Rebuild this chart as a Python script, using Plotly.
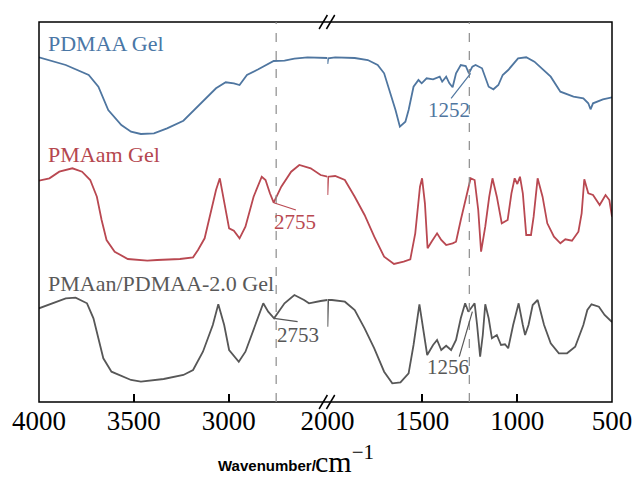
import plotly.graph_objects as go

# ---------------- data (wavenumber in cm^-1, transmittance in a.u., offset) ----------------
pdmaa_wn = [4000, 3859, 3738, 3687, 3635, 3566, 3515, 3463, 3394, 3325, 3239, 3153, 3067, 3016,
            2973, 2943, 2904, 2844, 2792, 2763, 2706, 2654, 2585, 2517, 2480,
            2000, 1996, 1959, 1856, 1787, 1735, 1701, 1667, 1641, 1618, 1589, 1572, 1546, 1520,
            1503, 1477, 1443, 1408, 1395, 1374, 1357, 1340, 1322, 1297, 1271, 1254, 1236, 1219,
            1185, 1150, 1125, 1099, 1076, 1047, 995, 952, 909, 823, 772, 703, 651, 625, 613, 600,
            548, 500]
pdmaa_t = [355.7, 348, 338, 326.3, 303, 288, 281.3, 279, 279.7, 284.7, 292.3, 308, 324.7, 330.7,
           329.7, 328, 338, 343.7, 349, 352, 352.3, 354.3, 355.7, 355, 355,
           349, 354.7, 355.7, 355, 353, 348, 339.7, 319.7, 303, 286.3, 291.3, 303, 326.3, 333,
           329.7, 334.7, 333.7, 336.3, 331.3, 336.3, 329.7, 325.7, 339.7, 348, 347, 339.7, 346.3, 348,
           344.7, 326.3, 323.7, 328, 338, 343, 354.7, 355.7, 351.3, 336.3, 321.3, 316.3, 314.7, 309.7, 303.7, 309.7,
           313.7, 315.7]

pmaam_wn = [4000, 3945, 3893, 3824, 3773, 3730, 3695, 3670, 3644, 3601, 3532, 3480, 3429, 3377,
            3308, 3257, 3188, 3162, 3127, 3093, 3067, 3047, 3024, 2998, 2973, 2943, 2912, 2869,
            2826, 2806, 2783, 2763, 2723, 2671, 2628, 2568, 2516, 2480,
            2000, 1996, 1959, 1908, 1856, 1804, 1753, 1701, 1649, 1598, 1563, 1537, 1512, 1501,
            1486, 1472, 1451, 1422, 1400, 1374, 1340, 1322, 1297, 1262, 1245, 1224, 1205, 1190,
            1168, 1147, 1130, 1107, 1081, 1050, 1030, 1013, 999, 985, 970, 952, 927, 913, 892,
            866, 841, 806, 772, 746, 711, 677, 660, 646, 625, 600, 565, 534, 514, 500]
pmaam_t = [232.3, 234.7, 241.3, 244.7, 241.3, 233, 216.3, 193, 173, 161.3, 154, 153, 152.3, 153,
           153.7, 154, 155.7, 163, 174.7, 203, 223, 234.7, 213, 184.7, 182.3, 174.7, 186.3, 216.3,
           236.3, 233, 219.7, 210.3, 226.3, 241.3, 248, 244.7, 238, 236.3,
           218, 236.3, 237, 233, 216.3, 198, 176.3, 156.3, 149, 151.3, 153.7, 179.7, 226.3, 234.7,
           209.7, 164.7, 171.3, 179.7, 173, 168, 169.7, 171.3, 193, 223, 234.7, 233, 203, 161.3,
           186.3, 216.3, 234.7, 216.3, 189.7, 193, 219.7, 234.7, 229, 236.3, 219.7, 178, 178, 196.3, 234.7,
           216.3, 189.7, 176.3, 169.7, 173.7, 172.3, 181.3, 199.7, 233.7, 219.7, 218, 208, 218, 213, 196.3]

mix_wn = [4000, 3928, 3859, 3807, 3747, 3713, 3687, 3661, 3618, 3515, 3463, 3343, 3239, 3188,
          3136, 3084, 3055, 3024, 2998, 2947, 2912, 2861, 2818, 2792, 2761, 2706, 2654, 2603,
          2577, 2516, 2480,
          2000, 1996, 1976, 1908, 1856, 1804, 1753, 1701, 1658, 1615, 1572, 1546, 1515, 1494,
          1474, 1443, 1422, 1400, 1374, 1348, 1322, 1297, 1274, 1257, 1240, 1224, 1211, 1195,
          1181, 1168, 1150, 1133, 1107, 1085, 1064, 1047, 1021, 992, 970, 958, 940, 918, 892,
          858, 823, 780, 737, 694, 651, 630, 608, 569, 539, 505, 500]
mix_t = [104.7, 109.7, 114.7, 115.3, 109.7, 94.7, 74.7, 54.7, 41.3, 33, 31.3, 34, 38, 43,
         61.3, 88, 108.7, 88, 63, 51.3, 61.3, 88, 109.7, 101.3, 94.7, 109.7, 118, 113,
         109.7, 112, 113,
         86.3, 113, 113, 111.3, 103, 84.7, 64.7, 41.3, 29.7, 30.7, 39.7, 68, 108.7, 84.7,
         58, 68, 73, 63, 67.3, 63, 73, 94.7, 109.7, 101.3, 106.3, 109.7, 88, 56.3,
         78, 108.7, 94.7, 74.7, 78, 68, 68.7, 64.7, 88, 109.7, 88, 78, 88, 108, 113,
         88, 69.7, 59.7, 59.7, 66.3, 88, 103, 108.7, 106.3, 98, 91.3, 91]

series_names = ["PDMAA Gel", "PMAam Gel", "PMAan/PDMAA-2.0 Gel"]
series_colors = ["#4f76a0", "#b94851", "#575757"]
label_colors = ["#4a77a6", "#b5474f", "#595959"]

left_ticks = [4000, 3500, 3000]
right_ticks = [2000, 1500, 1000, 500]
marked_peaks = [2750, 1252]

# peak annotations: (series index, text, axis, (line x0,y0,x1,y1), (text x,y))
peak_labels = [
    (0, "1252", "x2", (1245, 339.7, 1348, 314.7), (1357, 303)),
    (1, "2755", "x", (2763, 210.3, 2646, 203), (2650, 191)),
    (2, "2753", "x", (2761, 94.7, 2637, 91.3), (2637, 78)),
    (2, "1256", "x2", (1236, 101.3, 1305, 56.3), (1365, 46)),
]

# ---------------- figure ----------------
LEFT_MAX, LEFT_MIN = 4000, 2480
RIGHT_MAX, RIGHT_MIN = 2000, 500
split = (LEFT_MAX - LEFT_MIN) / ((LEFT_MAX - LEFT_MIN) + (RIGHT_MAX - RIGHT_MIN))
Y_LO, Y_HI = 11, 391

fig = go.Figure()
for wn, t, name, col in zip([pdmaa_wn, pmaam_wn, mix_wn], [pdmaa_t, pmaam_t, mix_t],
                            series_names, series_colors):
    lx = [w for w in wn if w >= LEFT_MIN]
    ly = [v for w, v in zip(wn, t) if w >= LEFT_MIN]
    rx = [w for w in wn if w <= RIGHT_MAX]
    ry = [v for w, v in zip(wn, t) if w <= RIGHT_MAX]
    fig.add_trace(go.Scatter(x=lx, y=ly, mode="lines", line=dict(color=col, width=1.8),
                             xaxis="x", yaxis="y", showlegend=False, name=name))
    fig.add_trace(go.Scatter(x=rx, y=ry, mode="lines", line=dict(color=col, width=1.8),
                             xaxis="x2", yaxis="y", showlegend=False, name=name))

tickfont = dict(family="Liberation Serif", size=27, color="black")
common = dict(showgrid=False, zeroline=False, showline=False, ticks="inside", ticklen=8,
              tickwidth=1.5, tickcolor="black", tickfont=tickfont, anchor="y")
fig.update_layout(
    width=644, height=480,
    margin=dict(l=36, r=23, t=22, b=78),
    paper_bgcolor="white", plot_bgcolor="white",
    xaxis=dict(domain=[0, split], range=[LEFT_MAX, LEFT_MIN], tickvals=left_ticks,
               ticktext=[str(v) for v in left_ticks], **common),
    xaxis2=dict(domain=[split, 1], range=[RIGHT_MAX, RIGHT_MIN], tickvals=right_ticks,
                ticktext=[str(v) for v in right_ticks], **common),
    yaxis=dict(range=[Y_LO, Y_HI], visible=False, domain=[0, 1]),
)

pw, ph = 585.0, 380.0
shapes = []
# frame
shapes.append(dict(type="rect", xref="paper", yref="paper", x0=0, x1=1, y0=0, y1=1,
                   line=dict(color="black", width=1.5)))
# dashed reference lines
for xr, v in zip(["x", "x2"], marked_peaks):
    shapes.append(dict(type="line", xref=xr, yref="paper", x0=v, x1=v, y0=0, y1=1,
                       line=dict(color="#8c8c8c", width=1.2, dash="dash")))
# axis break marks "//"
for yc in (1.0, 0.0):
    for dx in (0.0, 7.5):
        x0 = split - (8.5 - dx) / pw
        x1 = split - (0.0 - dx) / pw
        shapes.append(dict(type="line", xref="paper", yref="paper",
                           x0=x0, x1=x1, y0=yc - 7 / ph, y1=yc + 7 / ph,
                           line=dict(color="black", width=1.5)))
# peak leader lines
annotations = []
for si, txt, xr, (a0, b0, a1, b1), (tx, ty) in peak_labels:
    shapes.append(dict(type="line", xref=xr, yref="y", x0=a0, y0=b0, x1=a1, y1=b1,
                       line=dict(color=series_colors[si], width=1.2)))
    annotations.append(dict(xref=xr, yref="y", x=tx, y=ty, text=txt, showarrow=False,
                            font=dict(family="Liberation Serif", size=21, color=series_colors[si]),
                            xanchor="center", yanchor="middle"))

# series labels (positions in pixels from top converted to paper)
def py2paper(py):
    return (413 - py - Y_LO) / (Y_HI - Y_LO)

label_y = [py2paper(44), py2paper(154), py2paper(284)]
for name, col, yy in zip(series_names, label_colors, label_y):
    annotations.append(dict(xref="paper", yref="paper", x=(43 - 36) / pw, y=yy, text=name,
                            showarrow=False, xanchor="left", yanchor="middle",
                            font=dict(family="Liberation Serif", size=22, color=col)))

# axis title: bold sans part + serif unit
annotations.append(dict(
    xref="paper", yref="paper", x=(322 - 36) / pw, y=py2paper(476),
    text="<b>Wavenumber/</b>", showarrow=False, xanchor="right", yanchor="bottom",
    font=dict(family="Liberation Sans", size=15, color="black")))
annotations.append(dict(
    xref="paper", yref="paper", x=(316 - 36) / pw, y=py2paper(480),
    text="cm<sup>−1</sup>", showarrow=False, xanchor="left", yanchor="bottom",
    font=dict(family="Liberation Serif", size=30, color="black")))

fig.update_layout(shapes=shapes, annotations=annotations)
fig.write_html("out.html")
